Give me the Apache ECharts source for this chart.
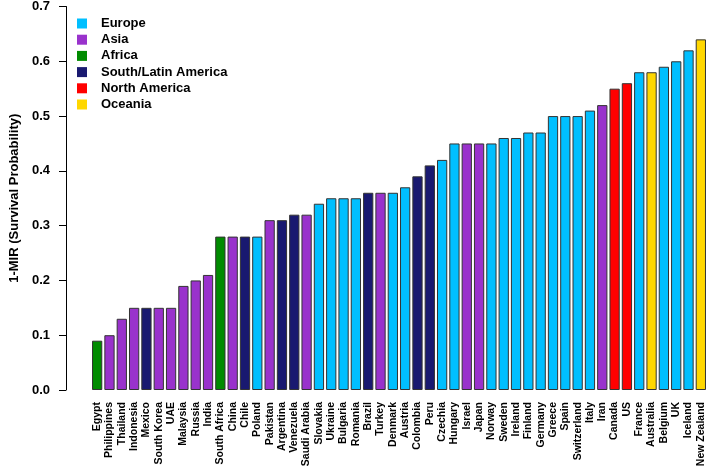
<!DOCTYPE html>
<html>
<head>
<meta charset="utf-8">
<script src="https://cdn.jsdelivr.net/npm/echarts@6/dist/echarts.min.js"></script>
<style>html,body{margin:0;padding:0;background:#fff;}#c{width:709px;height:472px;}</style>
</head>
<body>
<div id="c"></div>
<script>
const countries = ["Egypt","Philippines","Thailand","Indonesia","Mexico","South Korea","UAE","Malaysia","Russia","India","South Africa","China","Chile","Poland","Pakistan","Argentina","Venezuela","Saudi Arabia","Slovakia","Ukraine","Bulgaria","Romania","Brazil","Turkey","Denmark","Austria","Colombia","Peru","Czechia","Hungary","Israel","Japan","Norway","Sweden","Ireland","Finland","Germany","Greece","Spain","Switzerland","Italy","Iran","Canada","US","France","Australia","Belgium","UK","Iceland","New Zealand"];
const values = [0.09,0.10,0.13,0.15,0.15,0.15,0.15,0.19,0.20,0.21,0.28,0.28,0.28,0.28,0.31,0.31,0.32,0.32,0.34,0.35,0.35,0.35,0.36,0.36,0.36,0.37,0.39,0.41,0.42,0.45,0.45,0.45,0.45,0.46,0.46,0.47,0.47,0.50,0.50,0.50,0.51,0.52,0.55,0.56,0.58,0.58,0.59,0.60,0.62,0.64];
const regionOf = ["Africa","Asia","Asia","Asia","South/Latin America","Asia","Asia","Asia","Asia","Asia","Africa","Asia","South/Latin America","Europe","Asia","South/Latin America","South/Latin America","Asia","Europe","Europe","Europe","Europe","South/Latin America","Asia","Europe","Europe","South/Latin America","South/Latin America","Europe","Europe","Asia","Asia","Europe","Europe","Europe","Europe","Europe","Europe","Europe","Europe","Europe","Asia","North America","North America","Europe","Oceania","Europe","Europe","Europe","Oceania"];
const regions = ["Europe","Asia","Africa","South/Latin America","North America","Oceania"];
const regionColors = ["#00BFFF","#9932CC","#008B00","#191970","#FF0000","#FFD700"];
const yTicks = [0,0.1,0.2,0.3,0.4,0.5,0.6,0.7];

const series = regions.map((r, i) => ({
  name: r,
  type: 'bar',
  stack: 'all',
  barCategoryGap: '16.7%',
  itemStyle: { color: regionColors[i], borderColor: '#333', borderWidth: 1 },
  data: values.map((v, k) => regionOf[k] === r ? v : '-')
}));

const chart = echarts.init(document.getElementById('c'), null, {renderer: 'canvas'});
chart.setOption({
  animation: false,
  backgroundColor: '#fff',
  textStyle: { fontFamily: 'Liberation Sans, Arial, sans-serif' },
  grid: { left: 87, right: 2, top: 5, bottom: 82, containLabel: false },
  legend: {
    data: regions,
    orient: 'vertical',
    left: 77, top: 17, padding: 0,
    icon: 'rect', itemWidth: 10, itemHeight: 10, itemGap: 3.2,
    itemStyle: { borderWidth: 0 },
    textStyle: { fontSize: 13, fontWeight: 'bold', color: '#000', padding: [0,0,0,9] }
  },
  xAxis: {
    type: 'category',
    data: countries,
    axisLine: { show: false },
    axisTick: { show: false },
    axisLabel: { interval: 0, rotate: 90, margin: 12, fontSize: 10.5, fontWeight: 'bold', color: '#000' }
  },
  yAxis: {
    type: 'value',
    min: 0, max: 0.7, interval: 0.1,
    offset: 25,
    name: '1-MIR (Survival Probability)',
    nameLocation: 'middle', nameGap: 45,
    nameTextStyle: { fontSize: 13, fontWeight: 'bold', color: '#000' },
    splitLine: { show: false },
    axisLine: { show: true, lineStyle: { color: '#000', width: 1 } },
    axisTick: { show: true, length: 7, lineStyle: { color: '#000' } },
    axisLabel: { fontSize: 13, fontWeight: 'bold', color: '#000', margin: 16,
      formatter: v => yTicks.includes(Math.round(v*10)/10) ? v.toFixed(1) : '' }
  },
  series: series
});
</script>
</body>
</html>
